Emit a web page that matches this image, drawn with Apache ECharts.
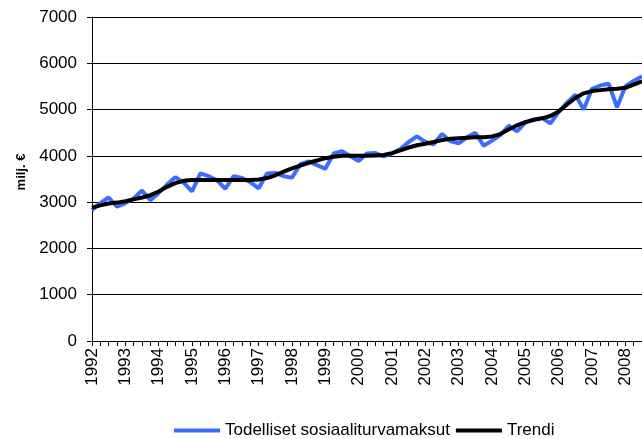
<!DOCTYPE html>
<html>
<head>
<meta charset="utf-8">
<script src="https://cdn.jsdelivr.net/npm/echarts@6/dist/echarts.min.js"></script>
<style>
  html, body { margin: 0; padding: 0; background: #fff; }
  #chart { width: 642px; height: 439px; }
</style>
</head>
<body>
<div id="chart"></div>
<script>
// vuodet, neljännesvuosittain
var years = ['1992','1993','1994','1995','1996','1997','1998','1999','2000',
             '2001','2002','2003','2004','2005','2006','2007','2008'];
var quarters = ['1','2','3','4'];

// milj. €
var actual = [2830, 2980, 3100, 2900, 2980, 3080, 3250, 3040,
              3200, 3380, 3540, 3420, 3230, 3620, 3560, 3470,
              3290, 3560, 3520, 3430, 3300, 3620, 3630, 3560,
              3530, 3820, 3880, 3800, 3720, 4050, 4100, 3990,
              3890, 4050, 4060, 3990, 4050, 4150, 4300, 4420,
              4300, 4250, 4470, 4320, 4270, 4400, 4500, 4220,
              4330, 4450, 4650, 4530, 4720, 4780, 4820, 4700,
              4950, 5150, 5320, 5000, 5450, 5520, 5560, 5050,
              5500, 5620, 5720];
var trend = [2880, 2930, 2970, 2990, 3020, 3060, 3100, 3150,
             3230, 3330, 3410, 3460, 3480, 3480, 3480, 3480,
             3480, 3480, 3480, 3480, 3490, 3520, 3580, 3660,
             3730, 3790, 3850, 3900, 3950, 3980, 4000, 4000,
             4000, 4000, 4010, 4020, 4060, 4120, 4180, 4230,
             4260, 4300, 4340, 4370, 4380, 4390, 4400, 4400,
             4420, 4470, 4570, 4660, 4730, 4780, 4810, 4860,
             4960, 5110, 5250, 5350, 5400, 5420, 5440, 5450,
             5470, 5540, 5610];

var categories = [];
years.forEach(function (y) {
    quarters.forEach(function (q) { categories.push(y + '/' + q); });
});
categories = categories.slice(0, actual.length);

var myChart = echarts.init(document.getElementById('chart'));

var option = {
    animation: false,
    textStyle: { fontFamily: 'Liberation Sans, Arial, sans-serif' },
    grid: { left: 92, right: 0, top: 17, bottom: 98 },
    legend: {
        left: 169,
        top: 417,
        itemWidth: 46,
        itemHeight: 4,
        itemGap: 6,
        icon: 'rect',
        textStyle: { fontSize: 17, color: '#000' },
        data: ['Todelliset sosiaaliturvamaksut', 'Trendi']
    },
    xAxis: {
        type: 'category',
        data: categories,
        boundaryGap: false,
        axisLine: { lineStyle: { color: '#000', width: 1 } },
        axisTick: { interval: 0, length: 5, lineStyle: { color: '#000' } },
        axisLabel: {
            interval: 3,
            rotate: 90,
            margin: 7,
            fontSize: 17,
            color: '#000',
            formatter: function (v) { return v.split('/')[0]; }
        },
        splitLine: { show: false }
    },
    yAxis: {
        type: 'value',
        min: 0,
        max: 7000,
        interval: 1000,
        name: 'milj. €',
        nameLocation: 'middle',
        nameGap: 63,
        nameTextStyle: { fontSize: 13, fontWeight: 'bold', color: '#000', padding: [0, 0, 0, 14] },
        axisLine: { show: true, lineStyle: { color: '#000', width: 1 } },
        axisTick: { show: true, length: 5, lineStyle: { color: '#000' } },
        axisLabel: {
            fontSize: 17,
            color: '#000',
            margin: 15,
            formatter: function (v) { return String(v); }
        },
        splitLine: { lineStyle: { color: '#000', width: 1 } }
    },
    series: [
        {
            name: 'Todelliset sosiaaliturvamaksut',
            type: 'line',
            data: actual,
            showSymbol: false,
            symbol: 'none',
            color: '#3A6CFF',
            lineStyle: { color: '#3A6CFF', width: 4 }
        },
        {
            name: 'Trendi',
            type: 'line',
            data: trend,
            showSymbol: false,
            symbol: 'none',
            color: '#000',
            lineStyle: { color: '#000', width: 4 }
        }
    ]
};

myChart.setOption(option);
</script>
</body>
</html>
